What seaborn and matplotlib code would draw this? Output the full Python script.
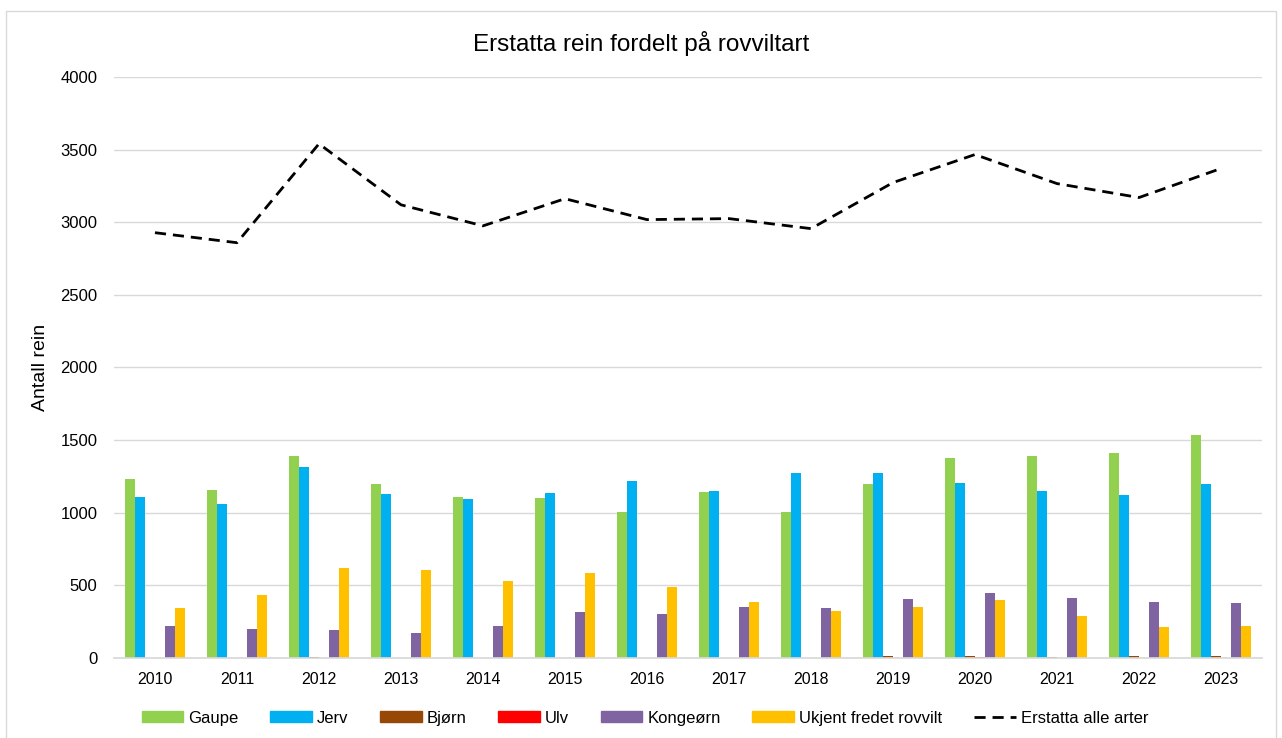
import matplotlib
matplotlib.use('Agg')
import numpy as np
import pandas as pd
import matplotlib.pyplot as plt
import seaborn as sns
from matplotlib.patches import Rectangle
from matplotlib.lines import Line2D

years = [str(y) for y in range(2010, 2024)]
gaupe = [1234, 1157, 1391, 1198, 1108, 1104, 1005, 1140, 1007, 1200, 1374, 1393, 1411, 1535]
jerv = [1108, 1058, 1317, 1131, 1097, 1136, 1219, 1150, 1274, 1274, 1202, 1150, 1120, 1198]
bjorn = [0, 0, 9, 0, 0, 0, 0, 0, 0, 15, 15, 8, 15, 15]
ulv = [0, 0, 0, 0, 0, 0, 0, 0, 0, 0, 8, 0, 0, 0]
kongeorn = [220, 197, 190, 172, 222, 319, 300, 348, 344, 406, 447, 413, 383, 376]
ukjent = [342, 436, 617, 603, 527, 587, 486, 383, 324, 353, 399, 291, 215, 218]
total = [2928, 2859, 3540, 3120, 2975, 3162, 3018, 3025, 2956, 3273, 3466, 3266, 3170, 3370]

series_names = ["Gaupe", "Jerv", "Bjørn", "Ulv", "Kongeørn", "Ukjent fredet rovvilt"]
series_colors = ["#92D050", "#00B0F0", "#974706", "#FF0000", "#8064A2", "#FFC000"]
line_name = "Erstatta alle arter"

df = pd.DataFrame({"År": years, "Gaupe": gaupe, "Jerv": jerv, "Bjørn": bjorn,
                   "Ulv": ulv, "Kongeørn": kongeorn, "Ukjent fredet rovvilt": ukjent})
long_df = df.melt(id_vars="År", var_name="Art", value_name="Antall")

sns.set_theme(style="white")
plt.rcParams['font.family'] = ['Liberation Sans', 'DejaVu Sans']
plt.rcParams['text.color'] = 'black'
plt.rcParams['axes.labelcolor'] = 'black'
plt.rcParams['xtick.color'] = 'black'
plt.rcParams['ytick.color'] = 'black'

fig = plt.figure(figsize=(12.82, 7.38), dpi=100)
ax = fig.add_axes([0.0889, 0.1084, 0.8955, 0.7873])

sns.barplot(data=long_df, x="År", y="Antall", hue="Art", order=years,
            hue_order=series_names, palette=series_colors, width=0.73,
            linewidth=0, saturation=1, legend=False, ax=ax)
sns.lineplot(x=np.arange(len(years)), y=total, color="black", lw=2,
             linestyle=(0, (4, 2.5)), ax=ax)

ax.set_ylim(0, 4000)
ax.set_xlim(-0.5, len(years) - 0.5)
ax.set_yticks(range(0, 4001, 500))
ax.yaxis.grid(True, color="#D9D9D9", lw=1)
ax.set_axisbelow(True)
for s in ["top", "right", "left"]:
    ax.spines[s].set_visible(False)
ax.spines["bottom"].set_color("#D9D9D9")
ax.tick_params(axis="y", labelsize=12, length=0, pad=12)
ax.tick_params(axis="x", labelsize=11.5, length=0, pad=10)
ax.set_xlabel("")
ax.set_ylabel("Antall rein", fontsize=14, labelpad=8)
ax.set_title("Erstatta rein fordelt på rovviltart", fontsize=17.5, pad=19, x=0.459)

handles = [Rectangle((0, 0), 1, 1, color=c) for c in series_colors]
handles.append(Line2D([0], [0], color="black", lw=2, linestyle=(0, (4, 2.5))))
fig.legend(handles, series_names + [line_name], loc="center", ncol=7,
           bbox_to_anchor=(0.503, 0.027), frameon=False, fontsize=12,
           handlelength=2.5, handleheight=0.6, handletextpad=0.3, columnspacing=1.9)

fig.patches.append(Rectangle((6 / 1282, -0.01), 1270 / 1282, 1 - 11 / 738 + 0.01,
                             transform=fig.transFigure, fill=False,
                             edgecolor="#D9D9D9", lw=1))

fig.savefig("out.png", dpi=100)
